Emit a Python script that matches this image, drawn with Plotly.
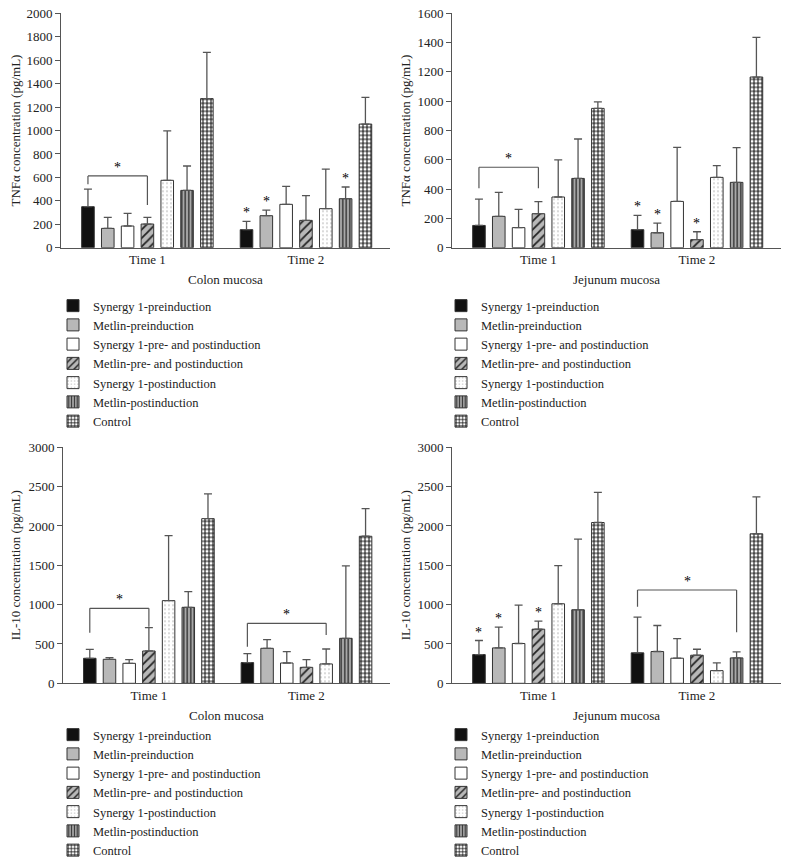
import plotly.graph_objects as go

W, H = 789, 858

groups = ["Time 1", "Time 2"]
series = [
    "Synergy 1-preinduction",
    "Metlin-preinduction",
    "Synergy 1-pre- and postinduction",
    "Metlin-pre- and postinduction",
    "Synergy 1-postinduction",
    "Metlin-postinduction",
    "Control",
]

# mean values per series: [Time 1, Time 2]
colon_tnf_mean = [[350, 154], [165, 273], [185, 370], [202, 233], [575, 333], [489, 418], [1272, 1055]]
colon_tnf_upper = [[500, 225], [259, 321], [293, 523], [259, 444], [996, 671], [697, 518], [1667, 1283]]

jejunum_tnf_mean = [[152, 123], [214, 102], [137, 316], [232, 55], [346, 480], [473, 446], [951, 1165]]
jejunum_tnf_upper = [[332, 221], [378, 168], [262, 685], [314, 109], [599, 560], [742, 683], [995, 1436]]

colon_il10_mean = [[318, 263], [305, 445], [254, 258], [411, 203], [1051, 246], [966, 572], [2093, 1869]]
colon_il10_upper = [[432, 377], [326, 555], [301, 403], [708, 301], [1877, 436], [1165, 1492], [2407, 2220]]

jejunum_il10_mean = [[365, 387], [450, 404], [506, 319], [688, 357], [1011, 161], [935, 323], [2044, 1900]]
jejunum_il10_upper = [[544, 841], [714, 735], [994, 569], [790, 433], [1496, 259], [1832, 400], [2427, 2371]]

# significance asterisks: (time index, series index)
colon_tnf_stars = [(1, 0), (1, 1), (1, 5)]
jejunum_tnf_stars = [(1, 0), (1, 1), (1, 3)]
colon_il10_stars = []
jejunum_il10_stars = [(0, 0), (0, 1), (0, 3)]

# brackets: (time, series a, series b, bar level, a-tick bottom, b-tick bottom)
colon_tnf_brackets = [(0, 0, 3, 612, 541, 364)]
jejunum_tnf_brackets = [(0, 0, 3, 549, 405, 405)]
colon_il10_brackets = [(0, 0, 3, 953, 643, 720), (1, 0, 4, 763, 465, 614)]
jejunum_il10_brackets = [(1, 0, 5, 1186, 974, 648)]

FONT = "Liberation Serif, Times New Roman, serif"
TXT = "#222"
AX = "#555"

styles = [
    dict(color="#111111"),
    dict(color="#b8b8b8"),
    dict(color="#ffffff"),
    dict(color="#b8b8b8", pattern=dict(shape="/", fgcolor="#222", bgcolor="#b8b8b8", size=6, solidity=0.3, fillmode="replace")),
    dict(color="#ffffff", pattern=dict(shape=".", fgcolor="#a0a0a0", bgcolor="#ffffff", size=4, solidity=0.1, fillmode="replace")),
    dict(color="#a8a8a8", pattern=dict(shape="|", fgcolor="#333", bgcolor="#a8a8a8", size=3.5, solidity=0.4, fillmode="replace")),
    dict(color="#ffffff", pattern=dict(shape="+", fgcolor="#111", bgcolor="#ffffff", size=4, solidity=0.45, fillmode="replace")),
]

def px_x(p):
    return p / W

def px_y(p):
    return 1 - p / H

panels = [
    dict(mean=colon_tnf_mean, upper=colon_tnf_upper, stars=colon_tnf_stars, brackets=colon_tnf_brackets,
         xd=(61, 390), yd=(13.3, 247.7), ymax=2000, dtick=200,
         ytitle="TNFα concentration (pg/mL)", xtitle="Colon mucosa", ytx=15, legx=53, legy=291),
    dict(mean=jejunum_tnf_mean, upper=jejunum_tnf_upper, stars=jejunum_tnf_stars, brackets=jejunum_tnf_brackets,
         xd=(452, 781), yd=(13.3, 247.7), ymax=1600, dtick=200,
         ytitle="TNFα concentration (pg/mL)", xtitle="Jejunum mucosa", ytx=405, legx=441, legy=291),
    dict(mean=colon_il10_mean, upper=colon_il10_upper, stars=colon_il10_stars, brackets=colon_il10_brackets,
         xd=(63, 390), yd=(447.3, 683.3), ymax=3000, dtick=500,
         ytitle="IL-10 concentration (pg/mL)", xtitle="Colon mucosa", ytx=15, legx=53, legy=720),
    dict(mean=jejunum_il10_mean, upper=jejunum_il10_upper, stars=jejunum_il10_stars, brackets=jejunum_il10_brackets,
         xd=(452, 781), yd=(447.3, 683.3), ymax=3000, dtick=500,
         ytitle="IL-10 concentration (pg/mL)", xtitle="Jejunum mucosa", ytx=405, legx=441, legy=720),
]

BARGAP = 0.125
SLOT = (1 - BARGAP) / len(series)
XR = [-0.545, 1.53]

fig = go.Figure()
annotations = []
shapes = []
layout = {}

for k, p in enumerate(panels):
    n = k + 1
    xa = "x" if n == 1 else f"x{n}"
    ya = "y" if n == 1 else f"y{n}"
    leg = "legend" if n == 1 else f"legend{n}"
    for i, name in enumerate(series):
        m = p["mean"][i]
        up = p["upper"][i]
        st = styles[i]
        marker = dict(color=st["color"], line=dict(color="#333", width=1))
        if "pattern" in st:
            marker["pattern"] = st["pattern"]
        fig.add_trace(go.Bar(
            x=groups, y=m, name=name, xaxis=xa, yaxis=ya, legend=leg,
            marker=marker, hoverinfo="skip",
            error_y=dict(type="data", symmetric=False,
                         array=[u - v for u, v in zip(up, m)], arrayminus=[0, 0],
                         color=AX, thickness=1.3, width=4),
        ))
    xkey = "xaxis" if n == 1 else f"xaxis{n}"
    ykey = "yaxis" if n == 1 else f"yaxis{n}"
    layout[xkey] = dict(
        domain=[px_x(p["xd"][0]), px_x(p["xd"][1])], anchor=ya, range=XR,
        showline=True, linecolor=AX, linewidth=1, ticks="", showgrid=False,
        automargin=False,
        tickfont=dict(family=FONT, size=13, color=TXT), type="category")
    layout[ykey] = dict(
        domain=[px_y(p["yd"][1]), px_y(p["yd"][0])], anchor=xa, range=[0, p["ymax"]],
        dtick=p["dtick"], showline=True, linecolor=AX, linewidth=1, ticks="outside",
        ticklen=5, tickcolor=AX, showgrid=False, zeroline=False, automargin=False,
        tickfont=dict(family=FONT, size=13, color=TXT))
    layout[leg] = dict(
        x=px_x(p["legx"]), y=px_y(p["legy"]), xanchor="left", yanchor="top",
        font=dict(family=FONT, size=12.5, color=TXT), bgcolor="rgba(0,0,0,0)",
        borderwidth=0, traceorder="normal")
    # axis titles
    annotations.append(dict(
        text=p["ytitle"], xref="paper", yref="paper", x=px_x(p["ytx"]),
        y=px_y((p["yd"][0] + p["yd"][1]) / 2), textangle=-90, showarrow=False,
        font=dict(family=FONT, size=13, color=TXT), xanchor="center", yanchor="middle"))
    annotations.append(dict(
        text=p["xtitle"], xref="paper", yref="paper", x=px_x((p["xd"][0] + p["xd"][1]) / 2),
        y=px_y(p["yd"][1] + 32), showarrow=False,
        font=dict(family=FONT, size=13, color=TXT), xanchor="center", yanchor="middle"))
    # asterisks
    for (g, i) in p["stars"]:
        annotations.append(dict(
            text="*", xref=xa, yref=ya, x=g + (i - 3) * SLOT, y=p["upper"][i][g],
            showarrow=False, xanchor="center", yanchor="bottom", yshift=-1,
            font=dict(family=FONT, size=14, color="#000")))
    # brackets
    for (g, a, b, yb, ya_bot, yb_bot) in p["brackets"]:
        x0 = g + (a - 3) * SLOT
        x1 = g + (b - 3) * SLOT
        line = dict(color=AX, width=1.2)
        shapes.append(dict(type="line", xref=xa, yref=ya, x0=x0, x1=x0, y0=ya_bot, y1=yb, line=line))
        shapes.append(dict(type="line", xref=xa, yref=ya, x0=x0, x1=x1, y0=yb, y1=yb, line=line))
        shapes.append(dict(type="line", xref=xa, yref=ya, x0=x1, x1=x1, y0=yb_bot, y1=yb, line=line))
        annotations.append(dict(
            text="*", xref=xa, yref=ya, x=(x0 + x1) / 2, y=yb,
            showarrow=False, xanchor="center", yanchor="bottom", yshift=-1,
            font=dict(family=FONT, size=14, color="#000")))

fig.update_layout(
    width=W, height=H, margin=dict(l=0, r=0, t=0, b=0, autoexpand=False),
    paper_bgcolor="white", plot_bgcolor="white",
    barmode="group", bargap=BARGAP, bargroupgap=0.365,
    annotations=annotations, shapes=shapes,
    font=dict(family=FONT, size=13, color=TXT),
    **layout,
)

fig.write_html(
    "out.html",
    config={"displayModeBar": False},
    post_script="document.body.style.margin='0';document.body.style.overflow='hidden';",
)
